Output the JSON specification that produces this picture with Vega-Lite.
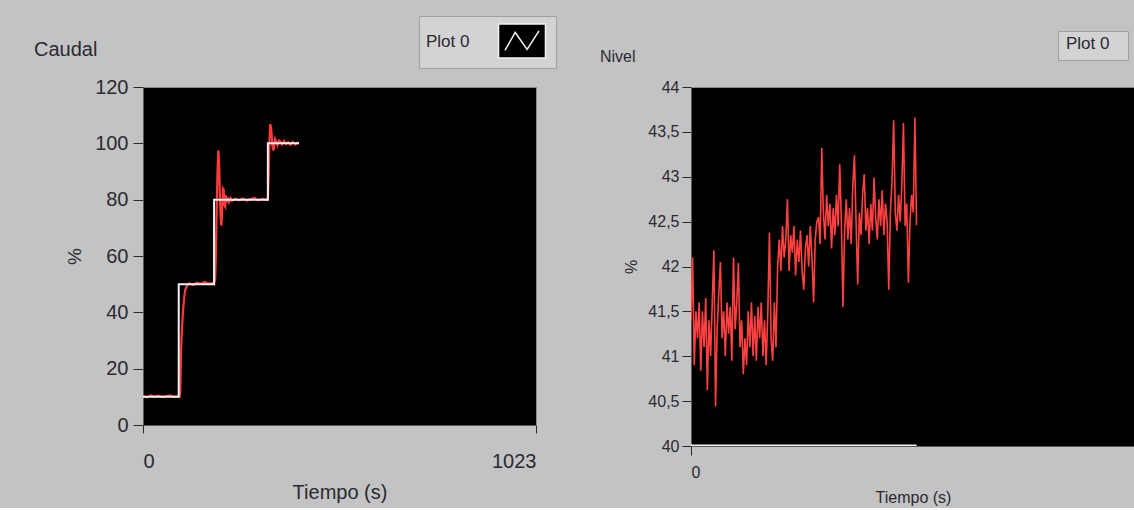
{
  "$schema": "https://vega.github.io/schema/vega-lite/v6.json",
  "background": "#c3c3c3",
  "padding": {"left": 33, "top": 15, "right": 0, "bottom": 2},
  "bounds": "flush",
  "spacing": 155,
  "resolve": {"scale": {"color": "independent"}, "legend": {"color": "independent"}},
  "datasets": {
    "caudal_sp": [
      {"t": 0, "v": 10}, {"t": 93, "v": 50}, {"t": 185, "v": 80}, {"t": 325, "v": 100}, {"t": 406, "v": 100}
    ],
    "caudal_pv": [
      {"t": 0, "v": 10.3}, {"t": 10, "v": 9.8}, {"t": 20, "v": 10.5}, {"t": 30, "v": 10}, {"t": 40, "v": 10.4}, {"t": 50, "v": 9.9}, {"t": 60, "v": 10.2}, {"t": 70, "v": 10.5}, {"t": 80, "v": 10}, {"t": 90, "v": 10.2}, {"t": 95, "v": 10},
      {"t": 97, "v": 12}, {"t": 99, "v": 26}, {"t": 101, "v": 33}, {"t": 104, "v": 40}, {"t": 107, "v": 45}, {"t": 110, "v": 48}, {"t": 115, "v": 49.5}, {"t": 120, "v": 50.3}, {"t": 130, "v": 49.7}, {"t": 140, "v": 50.5}, {"t": 150, "v": 50.1}, {"t": 160, "v": 50.8}, {"t": 170, "v": 50.2}, {"t": 180, "v": 50.4}, {"t": 185, "v": 50},
      {"t": 188, "v": 52}, {"t": 190, "v": 62}, {"t": 192, "v": 78}, {"t": 194, "v": 90}, {"t": 196, "v": 97.5}, {"t": 198, "v": 94}, {"t": 200, "v": 82}, {"t": 202, "v": 74}, {"t": 204, "v": 70.8}, {"t": 206, "v": 76}, {"t": 208, "v": 84}, {"t": 210, "v": 83.6}, {"t": 212, "v": 78}, {"t": 214, "v": 77.5}, {"t": 216, "v": 81.5}, {"t": 218, "v": 79}, {"t": 221, "v": 80.8}, {"t": 224, "v": 79.2}, {"t": 228, "v": 80.6}, {"t": 232, "v": 79.6}, {"t": 240, "v": 80.3}, {"t": 250, "v": 79.8}, {"t": 260, "v": 80.4}, {"t": 270, "v": 79.7}, {"t": 280, "v": 80.2}, {"t": 290, "v": 80.6}, {"t": 300, "v": 79.8}, {"t": 310, "v": 80.3}, {"t": 320, "v": 80}, {"t": 325, "v": 80},
      {"t": 327, "v": 88}, {"t": 329, "v": 100}, {"t": 331, "v": 106.8}, {"t": 333, "v": 106}, {"t": 335, "v": 103}, {"t": 337, "v": 99}, {"t": 339, "v": 97.5}, {"t": 341, "v": 98.5}, {"t": 344, "v": 101.5}, {"t": 347, "v": 100.5}, {"t": 350, "v": 99.3}, {"t": 354, "v": 101}, {"t": 358, "v": 100.6}, {"t": 362, "v": 99.6}, {"t": 367, "v": 100.8}, {"t": 372, "v": 99.8}, {"t": 378, "v": 100.4}, {"t": 384, "v": 99.5}, {"t": 390, "v": 100.5}, {"t": 396, "v": 99.6}, {"t": 402, "v": 100.2}, {"t": 406, "v": 100}
    ],
    "nivel_sp": [
      {"t": 0, "v": 40}, {"t": 414, "v": 40}
    ],
    "nivel_pv": [
      {"t": 0, "v": 41.4}, {"t": 3, "v": 42.1}, {"t": 6, "v": 40.9}, {"t": 9, "v": 41.5}, {"t": 12, "v": 41.2}, {"t": 15, "v": 41.6}, {"t": 18, "v": 40.84}, {"t": 21, "v": 41.5}, {"t": 24, "v": 41.1}, {"t": 27, "v": 41.65}, {"t": 30, "v": 40.62}, {"t": 33, "v": 41.4}, {"t": 36, "v": 41.0}, {"t": 39, "v": 41.6}, {"t": 42, "v": 42.18}, {"t": 45, "v": 40.44}, {"t": 48, "v": 41.3}, {"t": 51, "v": 41.7}, {"t": 54, "v": 42.05}, {"t": 57, "v": 41.2}, {"t": 60, "v": 41.5}, {"t": 63, "v": 41.0}, {"t": 66, "v": 41.6}, {"t": 69, "v": 41.25}, {"t": 72, "v": 41.55}, {"t": 75, "v": 40.95}, {"t": 78, "v": 42.1}, {"t": 81, "v": 41.3}, {"t": 84, "v": 41.6}, {"t": 87, "v": 42.04}, {"t": 90, "v": 41.1}, {"t": 93, "v": 41.4}, {"t": 96, "v": 40.8}, {"t": 99, "v": 41.2}, {"t": 102, "v": 40.9}, {"t": 105, "v": 41.5}, {"t": 108, "v": 41.1}, {"t": 111, "v": 41.6}, {"t": 114, "v": 41.0}, {"t": 117, "v": 41.45}, {"t": 120, "v": 40.95}, {"t": 123, "v": 41.55}, {"t": 126, "v": 41.2}, {"t": 129, "v": 41.6}, {"t": 132, "v": 41.0}, {"t": 135, "v": 41.4}, {"t": 138, "v": 40.9}, {"t": 141, "v": 41.5}, {"t": 144, "v": 42.38}, {"t": 147, "v": 41.2}, {"t": 150, "v": 40.95}, {"t": 153, "v": 41.6}, {"t": 156, "v": 41.1},
      {"t": 159, "v": 42.0}, {"t": 162, "v": 42.3}, {"t": 165, "v": 41.95}, {"t": 168, "v": 42.45}, {"t": 171, "v": 42.1}, {"t": 174, "v": 42.3}, {"t": 177, "v": 42.75}, {"t": 180, "v": 41.95}, {"t": 183, "v": 42.35}, {"t": 186, "v": 42.15}, {"t": 189, "v": 42.45}, {"t": 192, "v": 41.9}, {"t": 195, "v": 42.3}, {"t": 198, "v": 42.05}, {"t": 201, "v": 42.4}, {"t": 204, "v": 41.95}, {"t": 207, "v": 41.74}, {"t": 210, "v": 42.2}, {"t": 213, "v": 42.35}, {"t": 216, "v": 42.0}, {"t": 219, "v": 42.45}, {"t": 222, "v": 42.1}, {"t": 225, "v": 41.6}, {"t": 228, "v": 42.3}, {"t": 231, "v": 42.5}, {"t": 234, "v": 42.55}, {"t": 237, "v": 42.25}, {"t": 240, "v": 43.32}, {"t": 243, "v": 42.6}, {"t": 246, "v": 42.3}, {"t": 249, "v": 42.8}, {"t": 252, "v": 42.45}, {"t": 255, "v": 42.7}, {"t": 258, "v": 42.2}, {"t": 261, "v": 42.65}, {"t": 264, "v": 42.35}, {"t": 267, "v": 42.8}, {"t": 270, "v": 42.45}, {"t": 273, "v": 43.14}, {"t": 276, "v": 42.5}, {"t": 279, "v": 41.55}, {"t": 282, "v": 42.4}, {"t": 285, "v": 42.75}, {"t": 288, "v": 42.3}, {"t": 291, "v": 42.65}, {"t": 294, "v": 42.25}, {"t": 297, "v": 42.9}, {"t": 300, "v": 43.24}, {"t": 303, "v": 42.5}, {"t": 306, "v": 41.8}, {"t": 309, "v": 42.6}, {"t": 312, "v": 42.35}, {"t": 315, "v": 42.8}, {"t": 318, "v": 43.03}, {"t": 321, "v": 42.4}, {"t": 324, "v": 42.65}, {"t": 327, "v": 42.25}, {"t": 330, "v": 42.7}, {"t": 333, "v": 42.4}, {"t": 336, "v": 42.99}, {"t": 339, "v": 42.55}, {"t": 342, "v": 42.3}, {"t": 345, "v": 42.75}, {"t": 348, "v": 42.45}, {"t": 351, "v": 42.85}, {"t": 354, "v": 42.35}, {"t": 357, "v": 42.7}, {"t": 360, "v": 42.5}, {"t": 363, "v": 41.74}, {"t": 366, "v": 42.6}, {"t": 369, "v": 42.95}, {"t": 372, "v": 43.63}, {"t": 375, "v": 42.6}, {"t": 378, "v": 42.4}, {"t": 381, "v": 42.8}, {"t": 384, "v": 42.5}, {"t": 387, "v": 42.9}, {"t": 390, "v": 43.6}, {"t": 393, "v": 42.45}, {"t": 396, "v": 42.7}, {"t": 399, "v": 41.82}, {"t": 402, "v": 42.5}, {"t": 405, "v": 42.8}, {"t": 408, "v": 42.6}, {"t": 411, "v": 43.66}, {"t": 414, "v": 42.46}
    ]
  },
  "hconcat": [
    {
      "width": 393,
      "height": 338,
      "title": {"text": "Caudal", "anchor": "start", "frame": "group", "dx": -109, "offset": -44, "fontSize": 20},
      "layer": [
        {
          "data": {"name": "caudal_pv"},
          "mark": {"type": "line", "strokeWidth": 2.2, "color": "#ff3a3a", "clip": true},
          "encoding": {
            "x": {"field": "t", "type": "quantitative", "scale": {"domain": [0, 1023], "nice": false},
                  "axis": {"title": "Tiempo (s)", "values": [0, 1023], "format": "d", "tickSize": 8, "labelPadding": 18, "labelFontSize": 20, "titleFontSize": 20, "titlePadding": 11}},
            "y": {"field": "v", "type": "quantitative", "scale": {"domain": [0, 120], "nice": false},
                  "axis": {"title": "%", "values": [0, 20, 40, 60, 80, 100, 120], "tickSize": 10, "labelPadding": 5, "labelFontSize": 20, "titleFontSize": 19, "titlePadding": 10}}
          }
        },
        {
          "data": {"name": "caudal_sp"},
          "mark": {"type": "line", "interpolate": "step-after", "strokeWidth": 2, "clip": true},
          "encoding": {
            "x": {"field": "t", "type": "quantitative", "title": "Tiempo (s)"},
            "y": {"field": "v", "type": "quantitative", "title": "%"},
            "color": {"datum": "Plot 0", "scale": {"range": ["#f2f2f2"]},
                      "legend": {"orient": "none", "legendX": 276, "legendY": -71, "title": "Plot 0", "titleOrient": "left", "titleFontSize": 17, "titlePadding": 34, "padding": 7,
                                 "labelExpr": "''", "labelOffset": 0, "symbolSize": 1156, "fillColor": "#d3d3d3", "strokeColor": "#a0a0a0",
                                 "symbolType": "M-1.38,-1H1.38V1H-1.38Z M-1,0.55L-0.4,-0.5L0.3,0.5L1,-0.6L0.3,0.5L-0.4,-0.5Z",
                                 "symbolFillColor": "#000000", "symbolStrokeWidth": 1.5, "symbolOpacity": 1,
                                 "encode": {"symbols": {"update": {"fill": {"value": "#000000"}}}}}}
          }
        }
      ]
    },
    {
      "width": 444,
      "height": 359,
      "title": {"text": "Nivel", "anchor": "start", "frame": "group", "dx": -91, "offset": -34, "fontSize": 16},
      "layer": [
        {
          "data": {"name": "nivel_pv"},
          "mark": {"type": "line", "strokeWidth": 1.6, "color": "#ff4040", "clip": true},
          "encoding": {
            "x": {"field": "t", "type": "quantitative", "scale": {"domain": [0, 815], "nice": false},
                  "axis": {"title": "Tiempo (s)", "values": [0], "tickSize": 9, "labelPadding": 9, "labelFontSize": 16, "titleFontSize": 16, "titlePadding": 9}},
            "y": {"field": "v", "type": "quantitative", "scale": {"domain": [40, 44], "nice": false, "zero": false},
                  "axis": {"title": "%", "values": [40, 40.5, 41, 41.5, 42, 42.5, 43, 43.5, 44], "labelExpr": "replace(format(datum.value, '.1~f'), '.', ',')", "tickSize": 9, "labelPadding": 3, "labelFontSize": 16, "titleFontSize": 16, "titlePadding": 8}}
          }
        },
        {
          "data": {"name": "nivel_sp"},
          "mark": {"type": "line", "strokeWidth": 3, "clip": true},
          "encoding": {
            "x": {"field": "t", "type": "quantitative", "title": "Tiempo (s)"},
            "y": {"field": "v", "type": "quantitative", "title": "%"},
            "color": {"datum": "Plot 0", "scale": {"range": ["#f2f2f2"]},
                      "legend": {"orient": "none", "legendX": 367, "legendY": -56, "title": "Plot 0", "titleOrient": "left", "titleFontSize": 17, "titlePadding": 0, "padding": 8,
                                 "labelExpr": "''", "labelOffset": 0, "symbolSize": 4, "symbolOpacity": 0, "fillColor": "#d3d3d3", "strokeColor": "#a0a0a0"}}
          }
        }
      ]
    }
  ],
  "config": {
    "font": "Liberation Sans, sans-serif",
    "view": {"fill": "#000000", "stroke": "#8a8a8a", "strokeWidth": 1},
    "axis": {"grid": false, "domainColor": "#5a5a5a", "tickColor": "#2a2a2a", "labelColor": "#2a2a32", "titleColor": "#2a2a32", "titleFontWeight": "normal", "labelFont": "Liberation Sans, sans-serif", "titleFont": "Liberation Sans, sans-serif"},
    "legend": {"titleFontWeight": "normal", "titleColor": "#2a2a32", "titleFont": "Liberation Sans, sans-serif", "labelFont": "Liberation Sans, sans-serif"},
    "title": {"fontWeight": "normal", "color": "#2a2a32", "font": "Liberation Sans, sans-serif"}
  }
}
